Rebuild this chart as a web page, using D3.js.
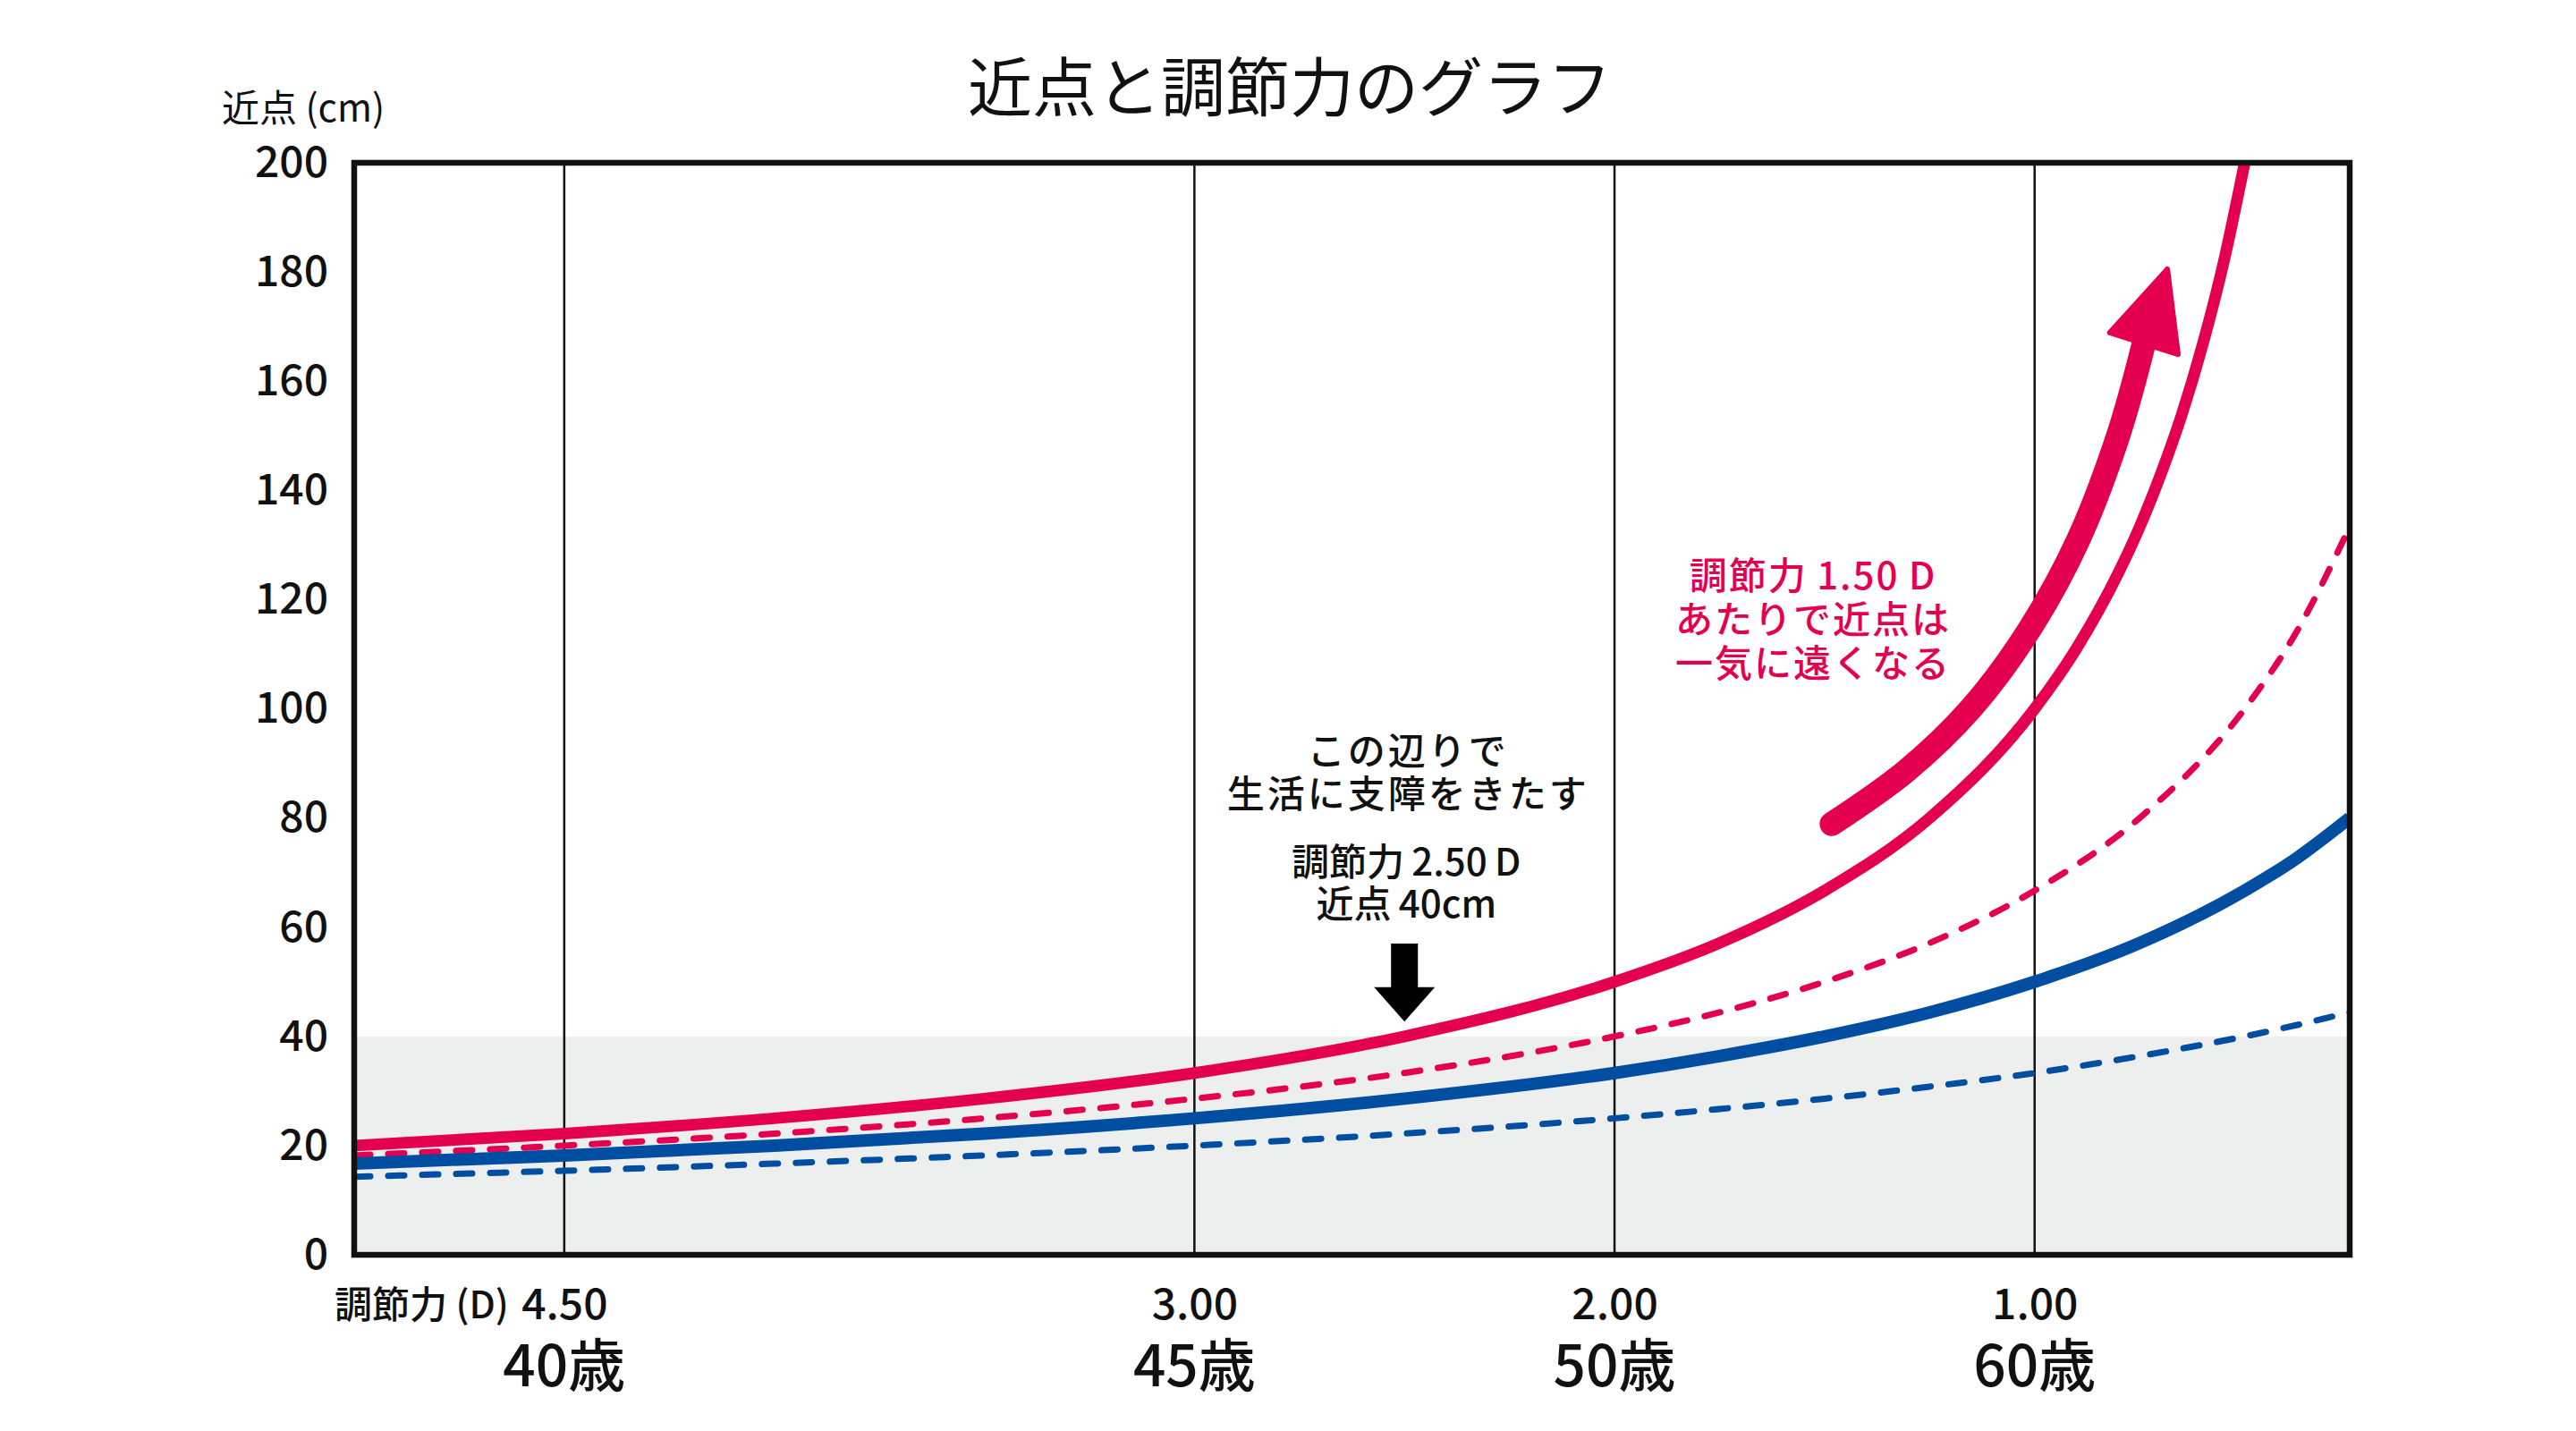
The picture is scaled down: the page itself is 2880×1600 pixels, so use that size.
<!DOCTYPE html>
<html><head><meta charset="utf-8">
<script src="https://cdn.jsdelivr.net/npm/d3@7/dist/d3.min.js"></script>
<style>
body{margin:0;background:#fff}
svg text{font-family:"Noto Sans CJK JP","Noto Sans",sans-serif;fill:#111}
</style>
</head><body>
<svg id="chart" width="2880" height="1600"></svg>
<script>
// ---- data ----
const title = "近点と調節力のグラフ";
const yAxisLabel = "近点 (cm)";
const xAxisPrefix = "調節力 (D)";
const yTicks = [0,20,40,60,80,100,120,140,160,180,200];
const xTicks = [4.5, 3.0, 2.0, 1.0];
const xTickLabels = ["4.50","3.00","2.00","1.00"];
const ageLabels = ["40歳","45歳","50歳","60歳"];

// accommodation (D) sample points
const dRedSolid = [5.0,4.5,4.0,3.5,3.0,2.5,2.0,1.75,1.5,1.25,1.0,0.9,0.8,0.75,0.7,0.65,0.6,0.55,0.5];
const redSolid  = [20.0,22.2,25.0,28.6,33.3,40.0,50.0,57.1,66.7,80.0,100.0,111.1,125.0,133.3,142.9,153.8,166.7,181.8,200.0];
const dOthers   = [5.0,4.5,4.0,3.5,3.0,2.5,2.0,1.75,1.5,1.25,1.0,0.75,0.5,0.375,0.25];
const redDashed = [18.2,20.0,22.2,25.0,28.6,33.3,40.0,44.4,50.0,57.1,66.7,80.0,100.0,114.3,133.3];
const blueSolid = [16.7,18.2,20.0,22.2,25.0,28.6,33.3,36.4,40.0,44.4,50.0,57.1,66.7,72.7,80.0];
const blueDashed= [14.3,15.4,16.7,18.2,20.0,22.2,25.0,26.7,28.6,30.8,33.3,36.4,40.0,42.1,44.4];

const shadeMax = 40; // shaded band 0–40 cm

// annotations
const noteBlack = ["この辺りで","生活に支障をきたす"];
const noteBlack2 = ["調節力\u20092.50\u2009D","近点\u200940cm"];
const noteRed = ["調節力\u20091.50\u2009D","あたりで近点は","一気に遠くなる"];
const noteD = 2.5;           // black arrow position (D)
const blackArrowCm = [57, 49, 42.7]; // top of shaft, head base, tip
const bigArrowPath = [[1.483,78.9],[1.306,88.6],[1.151,100.1],[1.015,114.2],[0.897,130.8],[0.800,150.3],[0.740,166.9]];
const bigArrowTip = [0.684,180.5];

// ---- layout ----
const RED = "#e4004f", BLUE = "#004ea2";
const svg = d3.select("#chart");
const x = d3.scaleLinear().domain([5, 0.25]).range([396, 2627]);
const y = d3.scaleLinear().domain([0, 200]).range([1403, 182]);

// title
svg.append("text").attr("x",1442).attr("y",92).attr("text-anchor","middle")
  .attr("dominant-baseline","central").attr("font-size",72).text(title);
// y label
svg.append("text").attr("x",248).attr("y",136).attr("font-size",42).text(yAxisLabel);

// shaded band
svg.append("rect").attr("x",x(5)).attr("y",y(shadeMax))
  .attr("width",x(0.25)-x(5)).attr("height",y(0)-y(shadeMax)).attr("fill","#edeeee");

// grid lines
svg.append("g").selectAll("line").data(xTicks).join("line")
  .attr("x1",d=>x(d)).attr("x2",d=>x(d)).attr("y1",y(0)).attr("y2",y(200))
  .attr("stroke","#111").attr("stroke-width",2.5);

// clip
svg.append("clipPath").attr("id","plotclip").append("rect")
  .attr("x",x(5)).attr("y",y(200)).attr("width",x(0.25)-x(5)).attr("height",y(0)-y(200));

const line = d3.line().x(d=>x(d[0])).y(d=>y(d[1])).curve(d3.curveMonotoneX);
const series = [
  {d:dOthers, v:blueDashed, color:BLUE, w:7, dash:"18,20"},
  {d:dOthers, v:redDashed,  color:RED,  w:7, dash:"18,20"},
  {d:dOthers, v:blueSolid,  color:BLUE, w:14, dash:null},
  {d:dRedSolid, v:redSolid, color:RED,  w:13, dash:null}
];
const gl = svg.append("g").attr("clip-path","url(#plotclip)");
series.forEach(s=>{
  gl.append("path").datum(s.d.map((dd,i)=>[dd,s.v[i]]))
    .attr("d",line).attr("fill","none").attr("stroke",s.color)
    .attr("stroke-width",s.w).attr("stroke-linecap",s.dash?"round":"butt")
    .attr("stroke-dasharray",s.dash);
});

// frame
svg.append("rect").attr("x",x(5)).attr("y",y(200))
  .attr("width",x(0.25)-x(5)).attr("height",y(0)-y(200))
  .attr("fill","none").attr("stroke","#111").attr("stroke-width",6.5);

// y axis
const ya = svg.append("g").attr("transform",`translate(${x(5)},0)`)
  .call(d3.axisLeft(y).tickValues(yTicks).tickSize(0).tickPadding(29));
ya.select(".domain").remove();
ya.selectAll("text").attr("font-size",48).attr("font-weight",500).attr("font-family",null).attr("fill","#111");

// x axis
const xa = svg.append("g").attr("transform",`translate(0,${y(0)})`)
  .call(d3.axisBottom(x).tickValues(xTicks).tickFormat((d,i)=>xTickLabels[i]).tickSize(0).tickPadding(38));
xa.select(".domain").remove();
xa.selectAll("text").attr("font-size",48).attr("font-weight",500).attr("font-family",null).attr("fill","#111");
svg.append("text").attr("x",x(4.5)-62).attr("y",1474).attr("text-anchor","end")
  .attr("font-size",42).attr("font-weight",500).text(xAxisPrefix);
svg.append("g").selectAll("text").data(xTicks).join("text")
  .attr("x",d=>x(d)).attr("y",1550).attr("text-anchor","middle")
  .attr("font-size",64).attr("font-weight",500).text((d,i)=>ageLabels[i]);

// black annotation
const bt = svg.append("g").attr("font-size",42).attr("font-weight",500).attr("text-anchor","middle");
bt.selectAll("text.a").data(noteBlack).join("text").attr("class","a")
  .attr("x",x(noteD)+4).attr("y",(d,i)=>855+i*48)
  .attr("letter-spacing",3).text(d=>d);
bt.selectAll("text.b").data(noteBlack2).join("text").attr("class","b")
  .attr("x",x(noteD)+2).attr("y",(d,i)=>979+i*47)
  .text(d=>d);
{
  const cx = x(noteD), t = y(blackArrowCm[0]), b = y(blackArrowCm[1]), tip = y(blackArrowCm[2]);
  svg.append("path").attr("fill","#000")
    .attr("d",`M${cx-15},${t}L${cx+15},${t}L${cx+15},${b}L${cx+34},${b}L${cx},${tip}L${cx-34},${b}L${cx-15},${b}Z`);
}

// red annotation text
svg.append("g").attr("font-size",42).attr("font-weight",500).attr("text-anchor","middle")
  .selectAll("text").data(noteRed).join("text")
  .attr("x",2027).attr("y",(d,i)=>659+i*49)
  .attr("fill",RED).style("fill",RED).attr("letter-spacing",2).text(d=>d);

// big red arrow
const arrowLine = d3.line().x(d=>x(d[0])).y(d=>y(d[1])).curve(d3.curveCatmullRom.alpha(0.5));
svg.append("path").datum(bigArrowPath).attr("d",arrowLine).attr("fill","none")
  .attr("stroke",RED).attr("stroke-width",27).attr("stroke-linecap","round");
{
  const last = bigArrowPath[bigArrowPath.length-1];
  const bx = x(last[0]), by = y(last[1]);
  const tx = x(bigArrowTip[0]), ty = y(bigArrowTip[1]);
  const len = Math.hypot(tx-bx, ty-by), ux=(tx-bx)/len, uy=(ty-by)/len;
  const nx = -uy, ny = ux, hw = 40;
  svg.append("path").attr("fill",RED).attr("stroke",RED).attr("stroke-width",6)
    .attr("stroke-linejoin","round")
    .attr("d",`M${tx},${ty}L${bx+nx*hw},${by+ny*hw}L${bx-nx*hw},${by-ny*hw}Z`);
}
</script>
</body></html>
